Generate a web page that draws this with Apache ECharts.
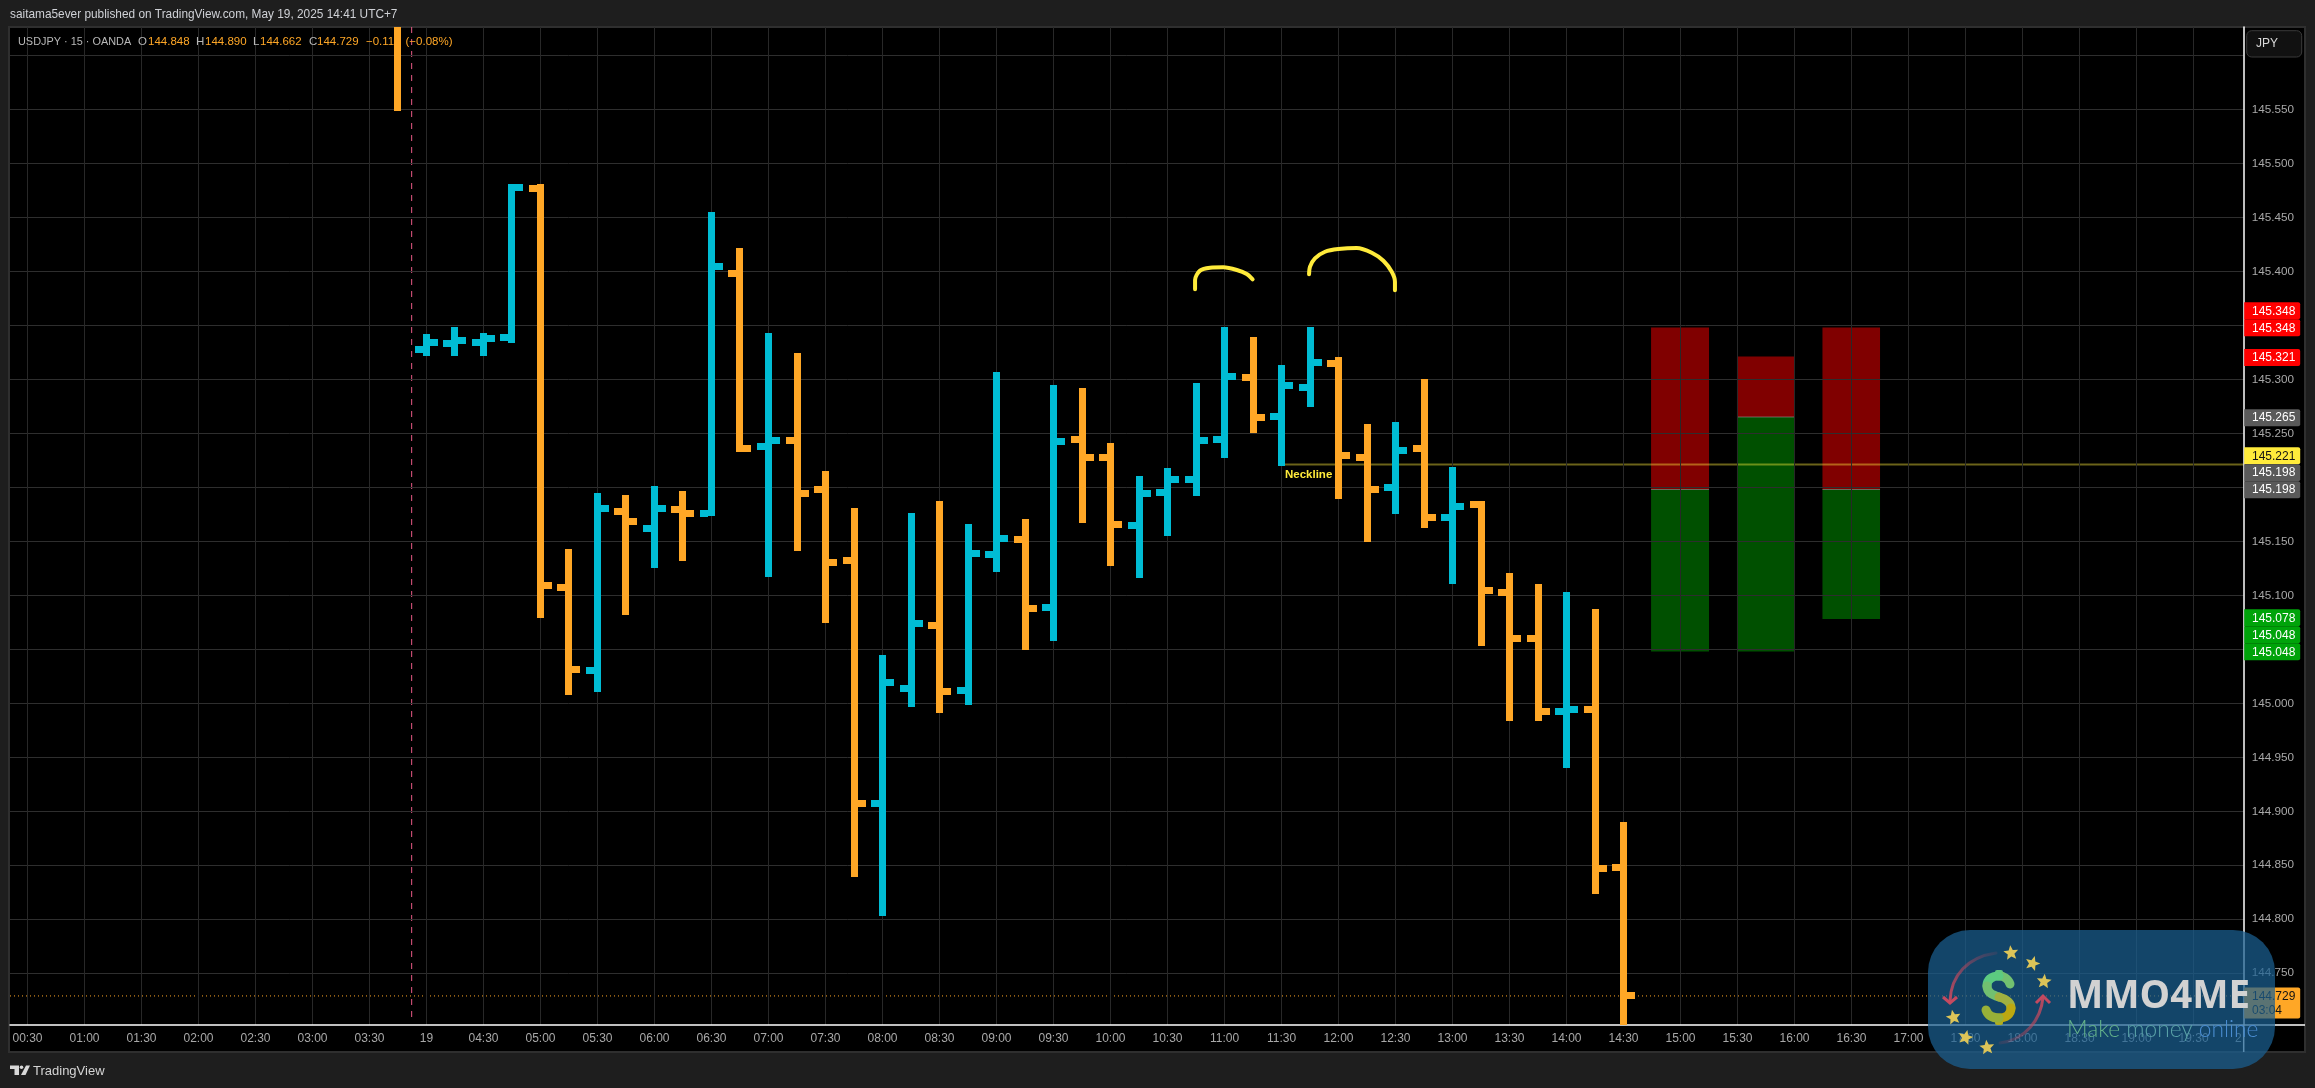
<!DOCTYPE html>
<html>
<head>
<meta charset="utf-8">
<title>USDJPY 15m</title>
<style>html,body{margin:0;padding:0;background:#1e1e1e}#chart{width:2315px;height:1088px}</style>
<script src="https://cdn.jsdelivr.net/npm/echarts@6/dist/echarts.min.js"></script>
</head>
<body>
<div id="chart"></div>
<script>
// ---- data ----
const barTimes = ['03:45','04:00','04:15','04:30','04:45','05:00','05:15','05:30','05:45','06:00','06:15','06:30','06:45','07:00','07:15','07:30','07:45','08:00','08:15','08:30','08:45','09:00','09:15','09:30','09:45','10:00','10:15','10:30','10:45','11:00','11:15','11:30','11:45','12:00','12:15','12:30','12:45','13:00','13:15','13:30','13:45','14:00','14:15','14:30'];
const opens  = [145.680,145.328,145.333,145.334,145.339,145.477,145.107,145.030,145.178,145.162,145.179,145.176,145.398,145.238,145.243,145.198,145.132,144.907,145.014,145.072,145.012,145.138,145.152,145.089,145.244,145.228,145.165,145.195,145.207,145.244,145.302,145.266,145.292,145.315,145.228,145.200,145.236,145.172,145.184,145.103,145.060,144.992,144.994,144.848];
const highs  = [145.720,145.342,145.348,145.343,145.481,145.481,145.143,145.195,145.193,145.201,145.197,145.455,145.422,145.343,145.324,145.215,145.181,145.045,145.176,145.187,145.166,145.307,145.171,145.295,145.292,145.241,145.210,145.218,145.297,145.348,145.339,145.313,145.348,145.321,145.259,145.260,145.300,145.219,145.187,145.121,145.110,145.103,145.087,144.890];
const lows   = [145.548,145.322,145.322,145.322,145.334,145.079,145.008,145.010,145.082,145.125,145.132,145.173,145.233,145.117,145.141,145.074,144.839,144.803,144.997,144.991,144.998,145.122,145.049,145.058,145.167,145.127,145.116,145.155,145.192,145.227,145.250,145.220,145.274,145.189,145.149,145.175,145.162,145.110,145.053,144.984,144.984,144.940,144.823,144.662];
const closes = [145.640,145.334,145.336,145.338,145.478,145.109,145.031,145.180,145.168,145.180,145.176,145.404,145.236,145.243,145.194,145.130,144.907,145.019,145.074,145.011,145.139,145.153,145.088,145.242,145.228,145.166,145.194,145.207,145.243,145.303,145.265,145.294,145.316,145.229,145.198,145.234,145.172,145.182,145.104,145.060,144.992,144.994,144.847,144.729];

const timeLabels = ['00:30','01:00','01:30','02:00','02:30','03:00','03:30','19','04:30','05:00','05:30','06:00','06:30','07:00','07:30','08:00','08:30','09:00','09:30','10:00','10:30','11:00','11:30','12:00','12:30','13:00','13:30','14:00','14:30','15:00','15:30','16:00','16:30','17:00','17:30','18:00','18:30','19:00','19:30'];
const timeTicks  = [30,60,90,120,150,180,210,240,270,300,330,360,390,420,450,480,510,540,570,600,630,660,690,720,750,780,810,840,870,900,930,960,990,1020,1050,1080,1110,1140,1170];
const priceLabels = [144.75,144.8,144.85,144.9,144.95,145.0,145.05,145.1,145.15,145.2,145.25,145.3,145.35,145.4,145.45,145.5,145.55];
const priceGrid   = [144.75,144.8,144.85,144.9,144.95,145.0,145.05,145.1,145.15,145.2,145.25,145.3,145.35,145.4,145.45,145.5,145.55,145.6];

// position boxes: start / end (minutes), stop, entry, target
const boxStarts  = [884.5, 929.7, 974.7];
const boxEnds    = [915.0, 960.0, 1005.0];
const boxStops   = [145.348, 145.321, 145.348];
const boxEntries = [145.198, 145.265, 145.198];
const boxTargets = [145.048, 145.048, 145.078];

const necklinePrice = 145.221;
const necklineStart = 691.3;
const lastPrice = 144.729;
const sessionBreak = 232.2;

const curve1Times  = [644.5,644.5,647.1,652.4,659.4,666.5,671.7,674.8];
const curve1Prices = [145.3833,145.3919,145.4006,145.4033,145.4037,145.4012,145.3975,145.3926];
const curve2Times  = [704.5,705.0,707.6,712.9,719.9,729.6,737.5,743.6,748.0,749.7,749.7];
const curve2Prices = [145.3972,145.4043,145.4120,145.4181,145.4206,145.4216,145.4172,145.4098,145.3996,145.3904,145.3824];

const tagValues = [145.348,145.348,145.321,145.265,145.221,145.198,145.198,145.078,145.048,145.048,144.729];
const tagTexts  = ['145.348','145.348','145.321','145.265','145.221','145.198','145.198','145.078','145.048','145.048','144.729'];
const tagSubs   = ['','','','','','','','','','','03:04'];
const tagKinds  = ['red','red','red','gray','yellow','gray','gray','green','green','green','orange'];

const legendTitle = 'USDJPY · 15 · OANDA';
const legendKeys  = ['O','H','L','C'];
const legendVals  = ['144.848','144.890','144.662','144.729'];
const legendDelta = ['−0.11','(−0.08%)'];
const publishLine = 'saitama5ever published on TradingView.com, May 19, 2025 14:41 UTC+7';

// ---- styling ----
const ORANGE = '#FFA726', CYAN = '#00BCD4', GRID = '#2e2e2e', AXIS_TEXT = '#a8a8a8', FRAME = '#1e1e1e';
const FONT = '"Liberation Sans", Arial, sans-serif';
const tagStyle = {
  red:    {bg:'#ff0000', fg:'#ffffff'},
  gray:   {bg:'#5a5a5a', fg:'#ffffff'},
  yellow: {bg:'#ffeb3b', fg:'#131313'},
  green:  {bg:'#00a30a', fg:'#ffffff'},
  orange: {bg:ORANGE,    fg:'#131313'}
};
const tagNudges = [-16.7,0.3,1,0.6,-8.9,-16.8,0.2,-1.3,-16.7,0.3,0];

const X_MIN = 20.8, X_MAX = 1196.4, Y_MIN = 144.7021, Y_MAX = 145.6262;
const minutes = s => { const p = s.split(':'); return +p[0]*60 + +p[1]; };

const barData = barTimes.map((t,i) => [minutes(t), opens[i], highs[i], lows[i], closes[i]]);
const boxData = boxStarts.map((s,i) => [s, boxEnds[i], boxStops[i], boxEntries[i], boxTargets[i]]);
const tagData = tagValues.map((v,i) => [X_MAX, v, i]);

function renderBar(params, api) {
  const t = api.value(0), o = api.value(1), h = api.value(2), l = api.value(3), c = api.value(4);
  const color = c >= o ? CYAN : ORANGE;
  const top = api.coord([t,h]), bot = api.coord([t,l]), po = api.coord([t,o]), pc = api.coord([t,c]);
  const W = 7, T = 8, H = 7;
  const left = Math.round(top[0] - W/2);
  const y0 = Math.round(top[1]), y1 = Math.round(bot[1]);
  const r = (a,b,w,hh) => ({type:'rect', shape:{x:a,y:b,width:w,height:hh}, style:{fill:color}});
  return {type:'group', children:[
    r(left, y0, W, y1-y0),
    r(left-T, Math.round(po[1]-H/2), T, H),
    r(left+W, Math.round(pc[1]-H/2), T, H)
  ]};
}
function renderBox(params, api) {
  const s = api.value(0), e = api.value(1), st = api.value(2), en = api.value(3), tg = api.value(4);
  const a = api.coord([s,st]), b = api.coord([e,en]), c = api.coord([e,tg]);
  const w = b[0]-a[0];
  return {type:'group', children:[
    {type:'rect', shape:{x:a[0],y:a[1],width:w,height:b[1]-a[1]}, style:{fill:'rgba(255,0,0,0.5)'}},
    {type:'rect', shape:{x:a[0],y:b[1],width:w,height:c[1]-b[1]}, style:{fill:'rgba(0,160,0,0.5)'}},
    {type:'rect', shape:{x:a[0],y:b[1]-0.5,width:w,height:1}, style:{fill:'rgba(150,150,150,0.6)'}}
  ]};
}
function renderTag(params, api) {
  const i = api.value(2), p = api.coord([api.value(0), api.value(1)]);
  const st = tagStyle[tagKinds[i]], cy = p[1] + tagNudges[i];
  const sub = tagSubs[i];
  const ch = [
    {type:'rect', shape:{x:p[0]+0.5, y:cy-8.5, width:56, height:sub?31:17, r:[0,2,2,0]}, style:{fill:st.bg}},
    {type:'text', style:{text:tagTexts[i], x:p[0]+8.3, y:cy+0.5, fill:st.fg, font:'12px '+FONT, align:'left', verticalAlign:'middle'}}
  ];
  if (sub) ch.push({type:'text', style:{text:sub, x:p[0]+8.3, y:cy+14.5, fill:st.fg, font:'12px '+FONT, align:'left', verticalAlign:'middle'}});
  return {type:'group', children:ch};
}
function renderNeckText(params, api) {
  const p = api.coord([api.value(0), api.value(1)]);
  return {type:'text', style:{text:'Neckline', x:p[0]+1, y:p[1]+10, fill:'#ffeb3b', font:'bold 11.5px '+FONT, align:'left', verticalAlign:'middle'}};
}

function starPts(cx,cy,R,rot){
  const pts=[];
  for(let i=0;i<10;i++){
    const r = i%2 ? R*0.45 : R, a = rot - Math.PI/2 + i*Math.PI/5;
    pts.push([cx+r*Math.cos(a), cy+r*Math.sin(a)]);
  }
  return pts;
}
const Z = 100;
function txt(text,x,y,fill,font,extra){
  return Object.assign({type:'text', z:Z, silent:true, style:{text:text,x:x,y:y,fill:fill,font:font,align:'left',verticalAlign:'middle'}}, extra||{});
}
const legendKeyX = [138,196,253,309], legendValX = [148,205,260,317];
function dollarSeg(x1,y1,cx1,cy1,cx2,cy2,x2,y2,color){
  return {type:'bezierCurve', z:Z+11, silent:true, shape:{x1:x1,y1:y1,cpx1:cx1,cpy1:cy1,cpx2:cx2,cpy2:cy2,x2:x2,y2:y2}, style:{fill:'none',stroke:color,lineWidth:9,lineCap:'round'}};
}
const graphics = [
  {type:'rect', z:-10, silent:true, shape:{x:9,y:27,width:2296,height:1025}, style:{fill:'#000000', stroke:'#2f2f2f', lineWidth:2}},
  txt(publishLine,10,15,'#cfd1d6','11.85px '+FONT),
  txt(legendTitle,18,42,'#b8b8b8','10.9px '+FONT),
  txt(legendDelta[0],366,42,ORANGE,'11.5px '+FONT),
  txt(legendDelta[1],405.5,42,ORANGE,'11.5px '+FONT),
  // axis lines running past the grid
  {type:'line', z:5, silent:true, shape:{x1:2243.7,y1:1025,x2:2305,y2:1025}, style:{stroke:'#ffffff',lineWidth:1.5}},
  {type:'line', z:5, silent:true, shape:{x1:2243.7,y1:1025,x2:2243.7,y2:1052}, style:{stroke:'#ffffff',lineWidth:1.5}},
  txt('2',2235,1039,AXIS_TEXT,'12px '+FONT),
  // JPY button
  {type:'rect', z:5, silent:true, shape:{x:2246.7,y:30.7,width:55,height:26.3,r:5}, style:{fill:'#111111',stroke:'#3a3a3a',lineWidth:1}},
  txt('JPY',2256,44,'#d8d8d8','12px '+FONT),
  // footer
  {type:'polygon', z:Z, silent:true, shape:{points:[[10,1065.5],[19,1065.5],[19,1075],[14.5,1075],[14.5,1069],[10,1069]]}, style:{fill:'#d8d8d8'}},
  {type:'circle', z:Z, silent:true, shape:{cx:21.5,cy:1067.3,r:1.8}, style:{fill:'#d8d8d8'}},
  {type:'polygon', z:Z, silent:true, shape:{points:[[26,1065.5],[30,1065.5],[25.5,1075],[21,1075]]}, style:{fill:'#d8d8d8'}},
  txt('TradingView',33,1071,'#d4d4d4','13px '+FONT),
  // watermark
  {type:'rect', z:Z+10, silent:true, shape:{x:1928,y:930,width:347,height:139,r:42}, style:{fill:'rgba(26,96,146,0.72)'}},
  {type:'bezierCurve', z:Z+11, silent:true, shape:{x1:1996,y1:953,cpx1:1968,cpy1:957,cpx2:1951,cpy2:975,x2:1950,y2:1001}, style:{fill:'none',lineWidth:3,lineCap:'round',stroke:{type:'linear',x:1,y:0,x2:0,y2:1,colorStops:[{offset:0,color:'rgba(190,70,90,0.1)'},{offset:1,color:'#c44a60'}]}}},
  {type:'polyline', z:Z+11, silent:true, shape:{points:[[1943,997],[1950,1003],[1957,997]]}, style:{fill:'none',stroke:'#c44a60',lineWidth:3}},
  {type:'bezierCurve', z:Z+11, silent:true, shape:{x1:2000,y1:1043,cpx1:2025,cpy1:1040,cpx2:2041,cpy2:1020,x2:2043,y2:997}, style:{fill:'none',lineWidth:3,lineCap:'round',stroke:{type:'linear',x:0,y:1,x2:1,y2:0,colorStops:[{offset:0,color:'rgba(190,70,90,0.1)'},{offset:1,color:'#c44a60'}]}}},
  {type:'polyline', z:Z+11, silent:true, shape:{points:[[2036,1003],[2043,996],[2050,1003]]}, style:{fill:'none',stroke:'#c44a60',lineWidth:3}},
  // dollar sign
  {type:'rect', z:Z+11, silent:true, shape:{x:1995,y:970,width:8,height:8,r:2}, style:{fill:'#5fc780'}},
  {type:'rect', z:Z+11, silent:true, shape:{x:1995,y:1017,width:8,height:8,r:2}, style:{fill:'#b0ae20'}},
  dollarSeg(2010,984,2008,978,2003,976,1999,976,'#72c070'),
  dollarSeg(1999,976,1991,976,1987,980,1987,986,'#5ccb80'),
  dollarSeg(1987,986,1987,993,1993,995,1999,997,'#72c070'),
  dollarSeg(1999,997,2006,999,2011,1002,2011,1008,'#a0b040'),
  dollarSeg(2011,1008,2011,1014,2006,1018,1999,1018,'#bca810'),
  dollarSeg(1999,1018,1993,1018,1988,1016,1986,1010,'#98b038'),
  txt('MMO4ME',2067,997.5,'#d2d2d2','700 38.5px "Open Sans", sans-serif',{z:Z+11}),
  {type:'text', z:Z+11, silent:true, style:{text:'{a|Make} {b|money} {c|online}',x:2067,y:1030,align:'left',verticalAlign:'middle',font:'300 22.7px Lato, sans-serif',
    rich:{a:{fill:'#62b08a',font:'300 22.7px Lato, sans-serif'},b:{fill:'#58a0a6',font:'300 22.7px Lato, sans-serif'},c:{fill:'#4a8cd0',font:'300 22.7px Lato, sans-serif'}}}}
];
legendKeys.forEach((k,i)=>{
  graphics.push(txt(k,legendKeyX[i],42,'#b8b8b8','11.5px '+FONT));
  graphics.push(txt(legendVals[i],legendValX[i],42,ORANGE,'11.5px '+FONT));
});
[[2011,953,-0.1],[2032.5,963.5,0.3],[2044,981.5,0.1],[1953.5,1017.5,-0.2],[1965.5,1037.5,0.25],[1987,1047.5,-0.1]].forEach(s=>{
  graphics.push({type:'polygon', z:Z+11, silent:true, shape:{points:starPts(s[0],s[1],7.8,s[2])}, style:{fill:'#dcc458'}});
});

const chart = echarts.init(document.getElementById('chart'), null, {renderer:'canvas'});
chart.setOption({
  animation:false,
  backgroundColor:FRAME,
  textStyle:{fontFamily:FONT},
  grid:{left:10, top:27, width:2233.7, height:998, containLabel:false},
  xAxis:{type:'value', min:X_MIN, max:X_MAX, z:3,
    axisLine:{show:true,onZero:false,lineStyle:{color:'#ffffff',width:1.5}},
    axisTick:{show:false,customValues:timeTicks},
    splitLine:{show:true,lineStyle:{color:'#282828',width:1}},
    axisLabel:{color:AXIS_TEXT,fontSize:12,fontFamily:FONT,margin:8,customValues:timeTicks,showMinLabel:true,showMaxLabel:true,
      formatter:v=>{const i=timeTicks.indexOf(Math.round(v));return i<0?'':timeLabels[i];}}
  },
  yAxis:{type:'value', position:'right', min:Y_MIN, max:Y_MAX, scale:true, z:3,
    axisLine:{show:true,onZero:false,lineStyle:{color:'#ffffff',width:1.5}},
    axisTick:{show:false,customValues:priceGrid},
    splitLine:{show:true,lineStyle:{color:GRID,width:1}},
    axisLabel:{color:AXIS_TEXT,fontSize:11.7,fontFamily:FONT,margin:8,align:'left',customValues:priceLabels,
      formatter:v=>v.toFixed(3)}
  },
  graphic:{elements:graphics},
  series:[
    {type:'custom', name:'boxes', z:1, clip:true, silent:true, renderItem:renderBox, encode:{x:[0,1],y:[2,3,4]}, data:boxData},
    {type:'line', name:'neckline', z:2, silent:true, symbol:'none', lineStyle:{color:'rgba(255,235,59,0.42)',width:2}, data:[[necklineStart,necklinePrice],[X_MAX,necklinePrice]]},
    {type:'line', name:'last', z:2, silent:true, symbol:'none', lineStyle:{color:ORANGE,width:1,type:[1,3]}, data:[[X_MIN,lastPrice],[X_MAX,lastPrice]]},
    {type:'line', name:'session', z:2, silent:true, symbol:'none', lineStyle:{color:'#e85a85',width:1,type:[6,6]}, data:[[sessionBreak,Y_MAX],[sessionBreak,144.705]]},
    {type:'custom', name:'USDJPY', z:4, clip:true, silent:true, renderItem:renderBar, encode:{x:0,y:[1,2,3,4]}, data:barData},
    {type:'line', name:'peak1', z:5, silent:true, symbol:'none', smooth:0.3, lineStyle:{color:'#ffeb3b',width:4,cap:'round'}, data:curve1Times.map((t,i)=>[t,curve1Prices[i]])},
    {type:'line', name:'peak2', z:5, silent:true, symbol:'none', smooth:0.3, lineStyle:{color:'#ffeb3b',width:4,cap:'round'}, data:curve2Times.map((t,i)=>[t,curve2Prices[i]])},
    {type:'custom', name:'necktext', z:6, silent:true, renderItem:renderNeckText, encode:{x:0,y:1}, data:[[necklineStart,necklinePrice]]},
    {type:'custom', name:'tags', z:8, clip:false, silent:true, renderItem:renderTag, encode:{x:0,y:1}, data:tagData}
  ]
});
</script>
</body>
</html>
